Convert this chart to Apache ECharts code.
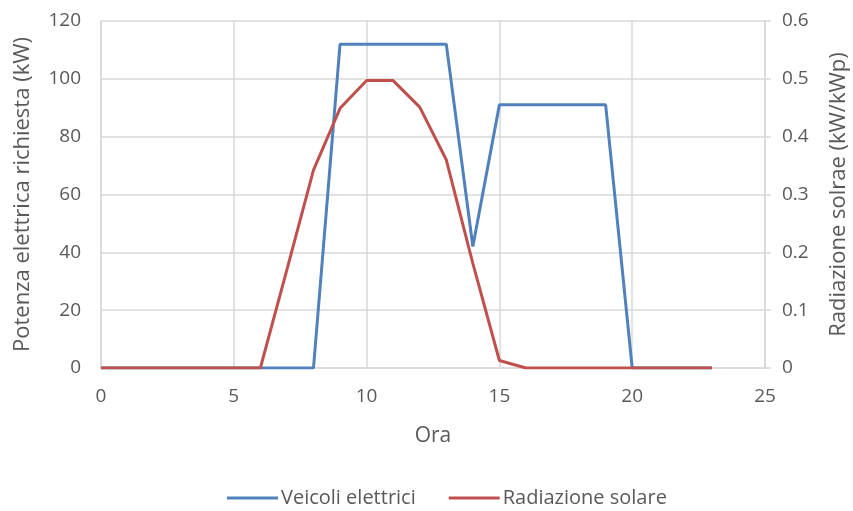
<!DOCTYPE html>
<html>
<head>
<meta charset="utf-8">
<script src="https://cdn.jsdelivr.net/npm/echarts@6/dist/echarts.min.js"></script>
<style>
  html, body { margin: 0; padding: 0; background: #fff; }
  #chart { width: 853px; height: 511px; }
</style>
</head>
<body>
<div id="chart"></div>
<script>
// Ore del giorno
const hours = [0,1,2,3,4,5,6,7,8,9,10,11,12,13,14,15,16,17,18,19,20,21,22,23];
// Potenza richiesta dai veicoli elettrici (kW)
const veicoli = [0,0,0,0,0,0,0,0,0,112,112,112,112,112,42,91,91,91,91,91,0,0,0,0];
// Radiazione solare (kW/kWp)
const radiazione = [0,0,0,0,0,0,0,0.17,0.342,0.449,0.497,0.497,0.451,0.36,0.181,0.013,0,0,0,0,0,0,0,0];

const seriesNames = ['Veicoli elettrici', 'Radiazione solare'];
const xTicks = { min: 0, max: 25, interval: 5 };
const leftTicks = { min: 0, max: 120, interval: 20 };
const rightTicks = { min: 0, max: 0.6, interval: 0.1 };

const FONT = '"Open Sans", "Noto Sans", sans-serif';
const TEXT = '#595959';
const GRID = '#d9d9d9';

const chart = echarts.init(document.getElementById('chart'), null, { renderer: 'canvas' });

chart.setOption({
  animation: false,
  backgroundColor: '#ffffff',
  grid: { left: 101, right: 88, top: 21, bottom: 143, containLabel: false, outerBoundsMode: 'none' },
  legend: {
    top: 488,
    left: 227,
    padding: 0,
    itemWidth: 51,
    itemHeight: 3,
    itemGap: 33,
    icon: 'rect',
    textStyle: { fontFamily: FONT, fontSize: 20, color: TEXT, padding: [0, 0, 0, -2] },
    data: seriesNames
  },
  xAxis: {
    type: 'value',
    min: xTicks.min, max: xTicks.max, interval: xTicks.interval,
    name: 'Ora',
    nameLocation: 'middle',
    nameGap: 58,
    nameTextStyle: { fontFamily: FONT, fontSize: 21, color: TEXT },
    axisLine: { show: true, lineStyle: { color: GRID, width: 1.5 } },
    axisTick: { show: false },
    axisLabel: { fontFamily: FONT, fontSize: 19, color: TEXT, margin: 19 },
    splitLine: { show: true, lineStyle: { color: GRID, width: 1.5 } }
  },
  yAxis: [
    {
      type: 'value',
      min: leftTicks.min, max: leftTicks.max, interval: leftTicks.interval,
      name: 'Potenza elettrica richiesta (kW)',
      nameLocation: 'middle',
      nameGap: 67,
      nameTextStyle: { fontFamily: FONT, fontSize: 22, color: TEXT },
      axisLine: { show: true, lineStyle: { color: GRID, width: 1.5 } },
      axisTick: { show: false },
      axisLabel: { fontFamily: FONT, fontSize: 19, color: TEXT, margin: 20 },
      splitLine: { show: true, lineStyle: { color: GRID, width: 1.5 } }
    },
    {
      type: 'value',
      position: 'right',
      min: rightTicks.min, max: rightTicks.max, interval: rightTicks.interval,
      name: 'Radiazione solrae (kW/kWp)',
      nameLocation: 'middle',
      nameGap: 63,
      nameRotate: 90,
      nameTextStyle: { fontFamily: FONT, fontSize: 22, color: TEXT },
      axisLine: { show: true, lineStyle: { color: GRID, width: 1.5 } },
      axisTick: { show: true, inside: false, length: 6, lineStyle: { color: GRID, width: 1.5 } },
      axisLabel: { fontFamily: FONT, fontSize: 19, color: TEXT, margin: 17,
        formatter: v => (v === 0 ? '0' : v.toFixed(1)) },
      splitLine: { show: false }
    }
  ],
  series: [
    {
      name: seriesNames[0],
      type: 'line',
      yAxisIndex: 0,
      data: hours.map((h, i) => [h, veicoli[i]]),
      showSymbol: false,
      symbol: 'none',
      lineStyle: { color: '#4F81BD', width: 3 },
      itemStyle: { color: '#4F81BD' },
      z: 2
    },
    {
      name: seriesNames[1],
      type: 'line',
      yAxisIndex: 1,
      data: hours.map((h, i) => [h, radiazione[i]]),
      showSymbol: false,
      symbol: 'none',
      lineStyle: { color: '#C0504D', width: 3 },
      itemStyle: { color: '#C0504D' },
      z: 3
    }
  ]
});
</script>
</body>
</html>
